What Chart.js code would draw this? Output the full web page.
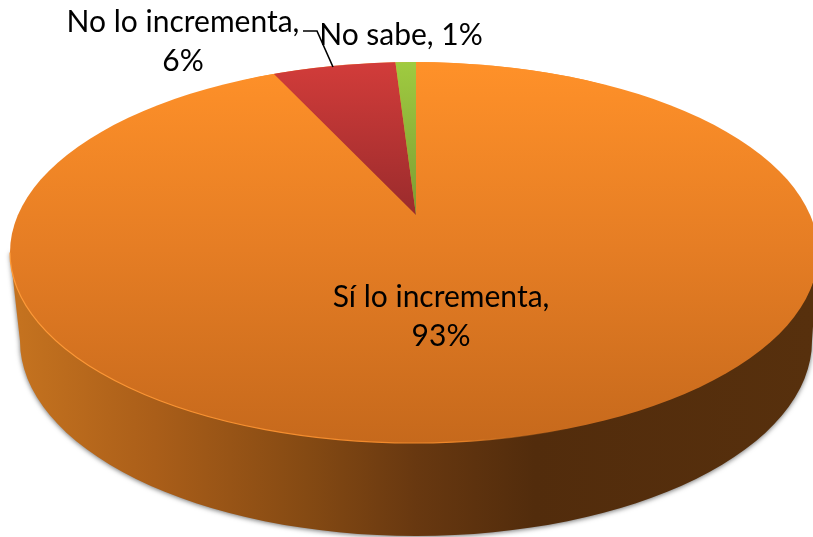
<!DOCTYPE html>
<html>
<head>
<meta charset="utf-8">
<title>Pie</title>
<script src="https://cdn.jsdelivr.net/npm/chart.js@4"></script>
<style>
  html, body { margin: 0; padding: 0; background: #fff; overflow: hidden; }
  canvas { display: block; }
</style>
</head>
<body>
<canvas id="chart" width="813" height="537"></canvas>
<script>
const categories = ['Sí lo incrementa', 'No lo incrementa', 'No sabe'];
const percents = [93, 6, 1];

// top face, bottom face and the apex of the slices, as seen in the tilted view
const topFace = { x: 414, y: 252.5, rx: 404, ry: 190.5 };
const bottomFace = { x: 416, y: 341, rx: 396, ry: 195 };
const apex = { x: 416, y: 215, rx: 336, ry: 157 };

// slice y position on screen -> y inside the untilted chart
function chartY(chart, screenY) {
    const a = chart.chartArea;
    const r = Math.min(a.width, a.height) / 2;
    return (a.top + a.bottom) / 2 + (screenY - apex.y) * r / apex.ry;
}

function sliceGradient(chart, stops) {
    if (!chart.chartArea) {
        return 'transparent';
    }
    const g = chart.ctx.createLinearGradient(0, chartY(chart, stops[0][0]), 0, chartY(chart, stops[stops.length - 1][0]));
    const span = stops[stops.length - 1][0] - stops[0][0];
    stops.forEach(s => g.addColorStop((s[0] - stops[0][0]) / span, s[1]));
    return g;
}

const orangeStops = [[62, '#ff9129'], [250, '#e57d24'], [443, '#c6691c']];
const redStops = [[62, '#d23c3a'], [215, '#9a2b2c']];
const greenStops = [[62, '#9fcb40'], [215, '#7d9c33']];
const sliceStops = [orangeStops, redStops, greenStops];

const tiltPlugin = {
    id: 'tilt',
    beforeDatasetsDraw(chart) {
        const ctx = chart.ctx;
        const arc = chart.getDatasetMeta(0).data[0];
        const r = arc.outerRadius;

        // side wall
        const wall = ctx.createLinearGradient(bottomFace.x - bottomFace.rx, 0, bottomFace.x + bottomFace.rx, 0);
        wall.addColorStop(0, '#c4721f');
        wall.addColorStop(0.17, '#aa5e19');
        wall.addColorStop(0.36, '#854a13');
        wall.addColorStop(0.5, '#683810');
        wall.addColorStop(0.65, '#522c0c');
        wall.addColorStop(1, '#57300d');
        ctx.save();
        ctx.shadowColor = 'rgba(0,0,0,0.55)';
        ctx.shadowBlur = 5;
        ctx.shadowOffsetX = 0;
        ctx.shadowOffsetY = 1;
        ctx.fillStyle = wall;
        ctx.beginPath();
        ctx.moveTo(topFace.x - topFace.rx, topFace.y);
        ctx.lineTo(bottomFace.x - bottomFace.rx, bottomFace.y);
        ctx.ellipse(bottomFace.x, bottomFace.y, bottomFace.rx, bottomFace.ry, 0, Math.PI, 0, true);
        ctx.lineTo(topFace.x + topFace.rx, topFace.y);
        ctx.closePath();
        ctx.fill();
        ctx.restore();

        // top face
        const face = ctx.createLinearGradient(0, 62, 0, 443);
        face.addColorStop(0, orangeStops[0][1]);
        face.addColorStop((orangeStops[1][0] - 62) / 381, orangeStops[1][1]);
        face.addColorStop(1, orangeStops[2][1]);
        ctx.fillStyle = face;
        ctx.beginPath();
        ctx.ellipse(topFace.x, topFace.y, topFace.rx, topFace.ry, 0, 0, Math.PI * 2);
        ctx.fill();

        // light rim on the lit side
        const rim = ctx.createLinearGradient(topFace.x - topFace.rx, 0, topFace.x + topFace.rx, 0);
        rim.addColorStop(0, '#ff9a38');
        rim.addColorStop(0.55, '#ee8629');
        rim.addColorStop(0.7, 'rgba(200,110,30,0)');
        ctx.strokeStyle = rim;
        ctx.lineWidth = 1.2;
        ctx.beginPath();
        ctx.ellipse(topFace.x, topFace.y, topFace.rx, topFace.ry, 0, Math.PI, 0, true);
        ctx.stroke();

        // slices go through the library, squeezed into the view
        ctx.save();
        ctx.beginPath();
        ctx.ellipse(topFace.x, topFace.y, topFace.rx, topFace.ry, 0, 0, Math.PI * 2);
        ctx.clip();
        ctx.translate(apex.x, apex.y);
        ctx.scale(apex.rx / r, apex.ry / r);
        ctx.translate(-arc.x, -arc.y);
    },
    afterDatasetsDraw(chart) {
        chart.ctx.restore();
    }
};

const labelPlugin = {
    id: 'pieLabels',
    afterDraw(chart) {
        const ctx = chart.ctx;
        ctx.save();
        ctx.fillStyle = '#000';
        ctx.font = '30px Lato';
        ctx.textAlign = 'center';
        ctx.textBaseline = 'alphabetic';
        ctx.fillText(categories[0] + ',', 441, 307);
        ctx.fillText(percents[0] + '%', 441, 346);
        ctx.fillText(categories[1] + ',', 183, 32);
        ctx.fillText(percents[1] + '%', 183, 71);
        ctx.fillText(categories[2] + ', ' + percents[2] + '%', 401, 45);

        // leader line of the red slice
        ctx.strokeStyle = '#000';
        ctx.lineWidth = 1.6;
        ctx.beginPath();
        ctx.moveTo(303, 31);
        ctx.lineTo(317, 31);
        ctx.lineTo(333, 67);
        ctx.stroke();
        ctx.restore();
    }
};

new Chart(document.getElementById('chart').getContext('2d'), {
    type: 'pie',
    data: {
        labels: categories,
        datasets: [{
            data: percents,
            clip: false,
            borderWidth: 0,
            backgroundColor: function(context) {
                return sliceGradient(context.chart, sliceStops[context.dataIndex]);
            }
        }]
    },
    options: {
        responsive: false,
        animation: false,
        events: [],
        plugins: {
            legend: { display: false },
            tooltip: { enabled: false }
        }
    },
    plugins: [tiltPlugin, labelPlugin]
});
</script>
</body>
</html>
